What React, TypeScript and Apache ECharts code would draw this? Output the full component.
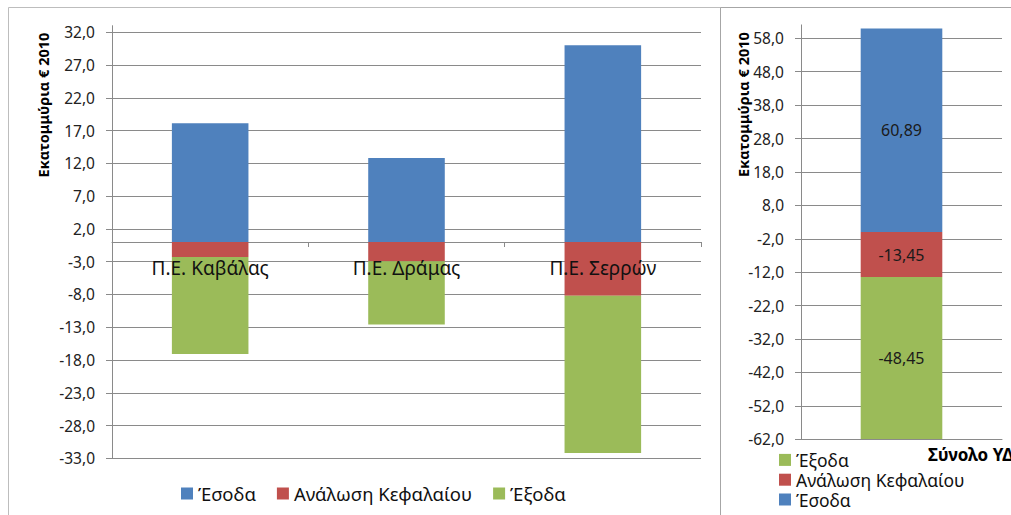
import React, { useEffect, useRef } from "react";
import * as echarts from "echarts";

const categories = ["Π.Ε. Καβάλας", "Π.Ε. Δράμας", "Π.Ε. Σερρών"];
const incomeValues = [18.1, 12.8, 30.0];
const capitalValues = [-2.3, -2.95, -8.2];
const expenseValues = [-14.8, -9.65, -24.0];

const totalCategory = ["Σύνολο ΥΔ"];
const totalIncome = [60.89];
const totalCapital = [-13.45];
const totalExpense = [-48.45];

const NAME_IN = "Έσοδα";
const NAME_CAP = "Ανάλωση Κεφαλαίου";
const NAME_EX = "Έξοδα";
const AXIS_TITLE = "Εκατομμύρια € 2010";

const BLUE = "#4F81BD";
const RED = "#C0504D";
const GREEN = "#9BBB59";
const GRID = "#8a8a8a";
const FONT = "Noto Sans";

const fmt1 = (v: number) => v.toFixed(1).replace(".", ",");
const fmt2 = (v: number) => v.toFixed(2).replace(".", ",");

export default function App() {
  const ref = useRef<HTMLDivElement>(null);
  useEffect(() => {
    document.body.style.margin = "0";
    const chart = echarts.init(ref.current!, undefined, { renderer: "svg" });
    const yAxisCommon = {
      type: "value",
      axisLine: { show: true, lineStyle: { color: GRID } },
      axisTick: { show: true, length: 6, lineStyle: { color: GRID } },
      splitLine: { show: true, showMaxLine: false, lineStyle: { color: GRID, width: 1 } },
      axisLabel: {
        color: "#222",
        fontFamily: FONT,
        fontSize: 15.5,
        margin: 17,
        showMaxLabel: false,
        formatter: (v: number) => fmt1(v),
      },
    };
    const bar = (name: string, data: number[], color: string, idx: number, labels: boolean) => ({
      name,
      type: "bar",
      stack: idx === 0 ? "a" : "b",
      xAxisIndex: idx,
      yAxisIndex: idx,
      data,
      barWidth: idx === 0 ? "39%" : "40.6%",
      itemStyle: { color },
      label: labels
        ? {
            show: true,
            position: "inside",
            color: "#1a1a1a",
            fontFamily: FONT,
            fontSize: 16,
            formatter: (p: any) => fmt2(p.value),
          }
        : { show: false },
    });
    chart.setOption({
      animation: false,
      grid: [
        { left: 112, right: 310, top: 25.7, bottom: 56.7 },
        { left: 801, right: 9, top: 24.9, bottom: 75.7 },
      ],
      xAxis: [
        {
          type: "category",
          gridIndex: 0,
          data: categories,
          axisLine: { show: true, onZero: true, lineStyle: { color: GRID } },
          axisTick: { show: true, length: 5, lineStyle: { color: GRID } },
          axisLabel: { show: false },
        },
        {
          type: "category",
          gridIndex: 1,
          data: totalCategory,
          axisLine: { show: true, onZero: false, lineStyle: { color: GRID } },
          axisTick: { show: false },
          axisLabel: { show: false },
        },
        {
          type: "category",
          gridIndex: 0,
          data: categories,
          position: "bottom",
          offset: -216.3,
          z: 10,
          axisLine: { show: false, onZero: false },
          axisTick: { show: false },
          axisLabel: { color: "#111", fontFamily: FONT, fontSize: 19, margin: 16 },
        },
      ],
      yAxis: [
        { ...yAxisCommon, gridIndex: 0, min: -33, max: 33, interval: 5 },
        { ...yAxisCommon, gridIndex: 1, min: -62, max: 62, interval: 10 },
      ],
      legend: [
        {
          orient: "horizontal",
          left: 181,
          top: 484,
          padding: 0,
          itemWidth: 12,
          itemHeight: 12,
          itemGap: 21,
          icon: "rect",
          data: [NAME_IN, NAME_CAP, NAME_EX],
          textStyle: { color: "#111", fontFamily: FONT, fontSize: 18.5 },
        },
        {
          orient: "vertical",
          left: 779,
          top: 450,
          padding: 0,
          itemWidth: 12,
          itemHeight: 12,
          itemGap: 0,
          icon: "rect",
          data: [NAME_EX, NAME_CAP, NAME_IN],
          textStyle: { color: "#111", fontFamily: FONT, fontSize: 17.5, lineHeight: 19.8 },
        },
      ],
      graphic: [
        {
          type: "rect",
          shape: { x: 8.5, y: 7.5, width: 712, height: 520 },
          style: { fill: "none", stroke: "#bdbdbd", lineWidth: 1 },
          silent: true,
        },
        {
          type: "rect",
          shape: { x: 720.5, y: 7.5, width: 320, height: 520 },
          style: { fill: "none", stroke: "#a6a6a6", lineWidth: 1 },
          silent: true,
        },
        {
          type: "text",
          x: 43,
          y: 105,
          rotation: Math.PI / 2,
          style: {
            text: AXIS_TITLE,
            fontFamily: FONT,
            fontWeight: "bold",
            fontSize: 14.5,
            fill: "#000",
            align: "center",
            verticalAlign: "middle",
          },
        },
        {
          type: "text",
          x: 743,
          y: 104.5,
          rotation: Math.PI / 2,
          style: {
            text: AXIS_TITLE,
            fontFamily: FONT,
            fontWeight: "bold",
            fontSize: 14.5,
            fill: "#000",
            align: "center",
            verticalAlign: "middle",
          },
        },
        {
          type: "text",
          x: 928,
          y: 454,
          style: {
            text: totalCategory[0],
            fontFamily: FONT,
            fontWeight: "bold",
            fontSize: 17,
            fill: "#000",
            align: "left",
            verticalAlign: "middle",
          },
        },
      ],
      series: [
        bar(NAME_IN, incomeValues, BLUE, 0, false),
        bar(NAME_CAP, capitalValues, RED, 0, false),
        bar(NAME_EX, expenseValues, GREEN, 0, false),
        bar(NAME_IN, totalIncome, BLUE, 1, true),
        bar(NAME_CAP, totalCapital, RED, 1, true),
        bar(NAME_EX, totalExpense, GREEN, 1, true),
      ],
    });
    return () => chart.dispose();
  }, []);
  return <div ref={ref} style={{ width: 1011, height: 515 }} />;
}
